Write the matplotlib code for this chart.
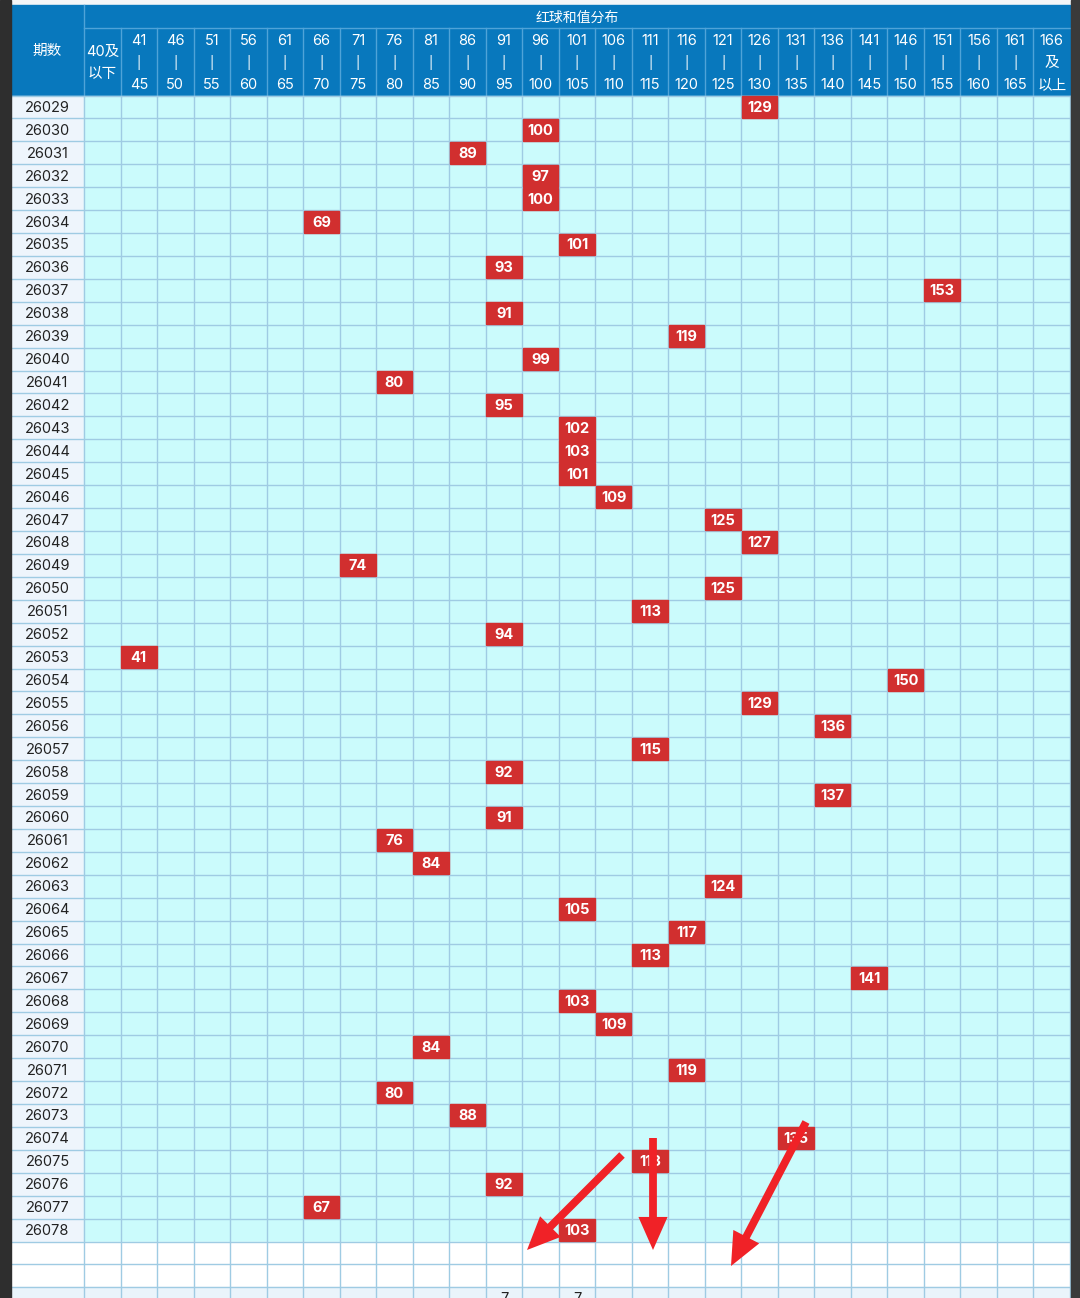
import matplotlib
matplotlib.use('Agg')
import matplotlib.pyplot as plt
from matplotlib.patches import Rectangle

# ---- data ----
periods = list(range(26029, 26079))
sums = [129, 100, 89, 97, 100, 69, 101, 93, 153, 91,
        119, 99, 80, 95, 102, 103, 101, 109, 125, 127,
        74, 125, 113, 94, 41, 150, 129, 136, 115, 92,
        137, 91, 76, 84, 124, 105, 117, 113, 141, 103,
        109, 84, 119, 80, 88, 135, 113, 92, 67, 103]

col_top = ['40及', '41', '46', '51', '56', '61', '66', '71', '76', '81', '86', '91', '96',
           '101', '106', '111', '116', '121', '126', '131', '136', '141', '146', '151',
           '156', '161', '166']
col_bot = ['以下', '45', '50', '55', '60', '65', '70', '75', '80', '85', '90', '95', '100',
           '105', '110', '115', '120', '125', '130', '135', '140', '145', '150', '155',
           '160', '165', '以上']

# partly visible statistics row at the bottom: (column index, text)
bottom_counts = [(11, '7'), (13, '7')]

# hand drawn red arrows (start, end) in pixel coords
arrows = [((622, 1155), (527, 1250)),
          ((653, 1138), (653, 1250)),
          ((806, 1122), (731, 1266))]

# ---- layout (pixels) ----
W, H = 1080, 1298
x0, xp = 11, 84          # table left, end of period column
cw = (1070 - xp) / 27    # width of a distribution column
ytop, yh1, yh2 = 5, 28, 95.5
rh = 22.92

BLUE = '#0878bd'
HLINE = '#4fa3d8'
GRID = '#9fcbe3'
CYAN = '#cbfbfc'
RED = '#d12f2f'
FONT = ['Inter', 'Noto Sans CJK SC', 'DejaVu Sans']
CJK = ['Noto Sans CJK SC', 'DejaVu Sans']
FS = 10.5


def col_of(v):
    if v <= 40:
        return 0
    return min((v - 41) // 5 + 1, 26)


fig = plt.figure(figsize=(W / 100, H / 100), dpi=100)
ax = fig.add_axes([0, 0, 1, 1])
ax.set_xlim(0, W)
ax.set_ylim(H, 0)
ax.axis('off')

# side strips
ax.add_patch(Rectangle((0, 0), W, H, color='#f4f6f8', zorder=0))
ax.add_patch(Rectangle((0, 0), x0, H, color='#2e2e2e', zorder=5))
ax.add_patch(Rectangle((1071, 0), W - 1071, H, color='#3a3a3a', zorder=5))

# header
ax.add_patch(Rectangle((x0, ytop), 1070 - x0, yh2 - ytop, color=BLUE, zorder=1))
ax.plot([xp, 1070], [yh1, yh1], color=HLINE, lw=1, zorder=2)
ax.plot([xp, xp], [ytop, yh2], color=HLINE, lw=1, zorder=2)
for i in range(1, 27):
    x = xp + i * cw
    ax.plot([x, x], [yh1, yh2], color=HLINE, lw=1, zorder=2)
ax.text((x0 + xp) / 2, 51, '期数', color='white', fontsize=10.5, family=CJK,
        ha='center', va='center', zorder=3)
ax.text((xp + 1070) / 2, 17.5, '红球和值分布', color='white', fontsize=10, family=CJK,
        ha='center', va='center', zorder=3)
for i in range(27):
    xc = xp + (i + 0.5) * cw
    if i == 0:
        ax.text(xc, 52, col_top[i], color='white', fontsize=FS, family=FONT,
                ha='center', va='center', zorder=3)
        ax.text(xc, 74, col_bot[i], color='white', fontsize=FS, family=FONT,
                ha='center', va='center', zorder=3)
    else:
        mid = '及' if i == 26 else '|'
        ax.text(xc, 41, col_top[i], color='white', fontsize=FS, family=FONT,
                ha='center', va='center', zorder=3)
        ax.text(xc, 63, mid, color='white', fontsize=FS if i == 26 else 9, family=FONT,
                ha='center', va='center', zorder=3)
        ax.text(xc, 85, col_bot[i], color='white', fontsize=FS, family=FONT,
                ha='center', va='center', zorder=3)

# body rows
n = len(periods)
ybody_end = yh2 + n * rh
ax.add_patch(Rectangle((x0, yh2), xp - x0, n * rh, color='#eef5fc', zorder=1))
ax.add_patch(Rectangle((xp, yh2), 1070 - xp, n * rh, color=CYAN, zorder=1))
ax.add_patch(Rectangle((x0, ybody_end), 1070 - x0, 2 * rh, color='white', zorder=1))
ax.add_patch(Rectangle((x0, ybody_end + 2 * rh), 1070 - x0, H, color='#eaf4fb', zorder=1))

for r in range(n + 4):
    y = yh2 + r * rh
    ax.plot([x0, 1070], [y, y], color=GRID, lw=1, zorder=2)
for i in range(28):
    x = xp + i * cw
    ax.plot([x, x], [yh2, H], color=GRID, lw=1, zorder=2)

for r, (p, v) in enumerate(zip(periods, sums)):
    yc = yh2 + (r + 0.5) * rh
    ax.text((x0 + xp) / 2, yc + 1, str(p), color='#222222', fontsize=FS, family=FONT,
            ha='center', va='center', zorder=3)
    c = col_of(v)
    ax.add_patch(Rectangle((xp + c * cw + 0.5, yc - rh / 2 + 0.5), cw - 1, rh - 1,
                           color=RED, zorder=3))
    ax.text(xp + (c + 0.5) * cw, yc + 1, str(v), color='white', fontsize=FS,
            fontweight='bold', family=FONT, ha='center', va='center', zorder=4)

for c, t in bottom_counts:
    ax.text(xp + (c + 0.5) * cw, ybody_end + 2 * rh + 5, t, color='#222222', fontsize=FS,
            family=FONT, ha='center', va='top', zorder=3)

for (sx, sy), (ex, ey) in arrows:
    ax.annotate('', xy=(ex, ey), xytext=(sx, sy), zorder=6,
                arrowprops=dict(arrowstyle='simple,head_width=1.5,head_length=1.7,tail_width=0.4',
                                mutation_scale=14, color='#f02227', lw=0,
                                shrinkA=0, shrinkB=0))

fig.savefig('out.png', dpi=100)
